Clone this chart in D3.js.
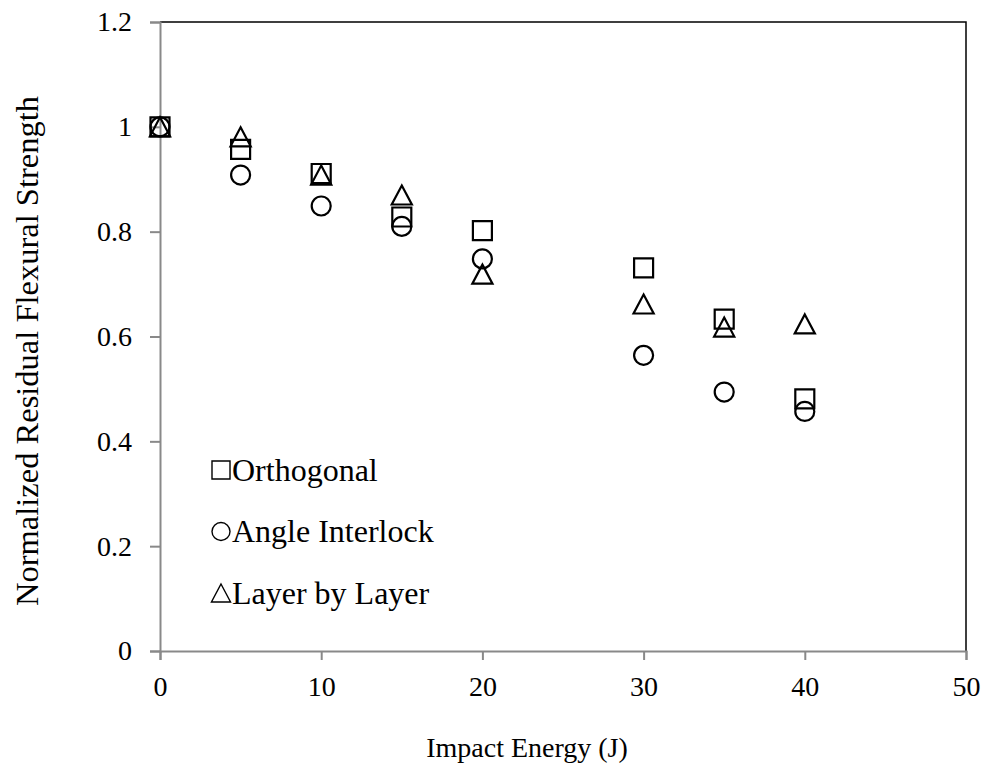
<!DOCTYPE html>
<html>
<head>
<meta charset="utf-8">
<script src="https://cdn.jsdelivr.net/npm/d3@7"></script>
<style>
  body { margin: 0; background: #fff; }
  text { font-family: "Liberation Serif", "Times New Roman", serif; fill: #000; }
</style>
</head>
<body>
<div id="chart"></div>
<script>
// data
const energy = [0, 5, 10, 15, 20, 30, 35, 40];
const orthogonal = [1, 0.957, 0.911, 0.828, 0.802, 0.731, 0.633, 0.481];
const angleInterlock = [1, 0.908, 0.849, 0.810, 0.748, 0.564, 0.494, 0.457];
const layerByLayer = [1, 0.981, 0.908, 0.870, 0.719, 0.662, 0.618, 0.624];
const seriesNames = ["Orthogonal", "Angle Interlock", "Layer by Layer"];
const xTicks = [0, 10, 20, 30, 40, 50];
const yTicks = [0, 0.2, 0.4, 0.6, 0.8, 1, 1.2];

const W = 990, H = 772;
const margin = { top: 22, right: 24, bottom: 121, left: 160 };
const w = W - margin.left - margin.right;
const h = H - margin.top - margin.bottom;

const svg = d3.select("#chart").append("svg")
  .attr("width", W).attr("height", H);
const g = svg.append("g").attr("transform", `translate(${margin.left},${margin.top})`);

const x = d3.scaleLinear().domain([0, 50]).range([0, w]);
const y = d3.scaleLinear().domain([0, 1.2]).range([h, 0]);

const axisGrey = "#898989";

// plot border (top / right black)
g.append("path")
  .attr("d", `M0,0H${w}V${h}`)
  .attr("fill", "none").attr("stroke", "#000").attr("stroke-width", 1.5);

// axes
const xAxis = g.append("g").attr("transform", `translate(0,${h})`)
  .call(d3.axisBottom(x).tickValues(xTicks).tickSize(9).tickPadding(16).tickFormat(d3.format("d")));
const yAxis = g.append("g")
  .call(d3.axisLeft(y).tickValues(yTicks).tickSize(10).tickPadding(18).tickFormat(d => d === 0 ? "0" : d3.format("")(+d.toFixed(1))));
[xAxis, yAxis].forEach(a => {
  a.select(".domain").attr("stroke", axisGrey).attr("stroke-width", 2);
  a.selectAll(".tick line").attr("stroke", axisGrey).attr("stroke-width", 2);
  a.selectAll(".tick text").attr("font-size", 28);
});
xAxis.selectAll(".tick text").attr("dy", "0.71em");

// marker shapes
const S = 19;
const shapes = {
  square: s => `M${-s / 2},${-s / 2}h${s}v${s}h${-s}Z`,
  circle: s => d3.arc()({ innerRadius: 0, outerRadius: s / 2, startAngle: 0, endAngle: 2 * Math.PI }),
  triangle: s => `M0,${-s / 2}L${s * 0.53},${s / 2}H${-s * 0.53}Z`
};
const series = [
  { name: seriesNames[0], values: orthogonal, shape: "square" },
  { name: seriesNames[1], values: angleInterlock, shape: "circle" },
  { name: seriesNames[2], values: layerByLayer, shape: "triangle" }
];

series.forEach(sr => {
  g.append("g").selectAll("path")
    .data(energy.map((e, i) => ({ e, v: sr.values[i] })))
    .join("path")
    .attr("transform", d => `translate(${x(d.e)},${y(d.v)})`)
    .attr("d", shapes[sr.shape](S))
    .attr("fill", "none").attr("stroke", "#000").attr("stroke-width", 2.2);
});

// legend
const legend = g.append("g").attr("transform", `translate(${61},${448})`);
series.forEach((sr, i) => {
  const row = legend.append("g").attr("transform", `translate(0,${i * 61.5})`);
  row.append("path").attr("d", shapes[sr.shape](18))
    .attr("fill", "none").attr("stroke", "#000").attr("stroke-width", 1.4);
  row.append("text").attr("x", 11).attr("y", 10.5).attr("font-size", 32).text(sr.name);
});

// axis titles
svg.append("text")
  .attr("x", 527).attr("y", 757)
  .attr("text-anchor", "middle").attr("font-size", 28)
  .text("Impact Energy (J)");
svg.append("text")
  .attr("transform", `translate(38,${351}) rotate(-90)`)
  .attr("text-anchor", "middle").attr("font-size", 32.5)
  .text("Normalized Residual Flexural Strength");
</script>
</body>
</html>
